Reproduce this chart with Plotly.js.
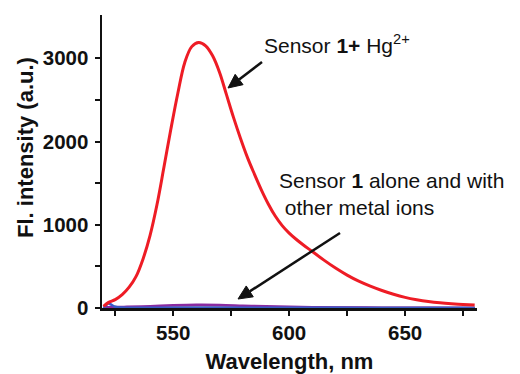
<!DOCTYPE html>
<html>
<head>
<meta charset="utf-8">
<script src="https://cdn.plot.ly/plotly-3.0.1.min.js"></script>
<style>html,body{margin:0;padding:0;background:#fff;}#chart{width:520px;height:374px;}</style>
</head>
<body>
<div id="chart"></div>
<script>
// Wavelength (nm) and intensities
const wlHg = [520,522,525,528,531,534,537,540,543,546,549,552,555,558,561,564,567,570,573,576,579,582,585,588,591,594,597,600,603,606,610,615,620,625,630,635,640,645,650,655,660,665,670,675,680];
const sensorHg = [20,65,100,160,250,380,590,870,1240,1690,2150,2580,2950,3140,3190,3150,3030,2830,2560,2290,2040,1810,1610,1420,1250,1105,990,900,826,760,678,575,480,395,322,262,210,165,128,100,78,62,51,43,37];

const wlBase = [520,521,522,523,525,528,530,540,550,560,570,580,590,600,610,620,640,660,680];
const sensorPurple = [5,8,10,11,12,13,14,22,32,38,36,28,20,14,10,7,4,2,1];
const sensorBlue = [0,30,55,45,15,5,3,2,2,2,2,2,2,2,2,2,1,1,0];
const sensorNavy = [0,2,3,3,3,2,2,2,2,2,2,2,2,2,2,2,1,1,0];

const xTickVals = [550,600,650];
const yTickVals = [0,1000,2000,3000];

const traces = [
  {x: wlBase, y: sensorNavy, mode:'lines', line:{color:'#1f2a6b', width:2.5, shape:'spline'}, hoverinfo:'skip'},
  {x: wlBase, y: sensorPurple, mode:'lines', line:{color:'#8a2aa0', width:2.5, shape:'spline'}, hoverinfo:'skip'},
  {x: wlBase, y: sensorBlue, mode:'lines', line:{color:'#3a5cc8', width:2.5, shape:'spline'}, hoverinfo:'skip'},
  {x: wlHg, y: sensorHg, mode:'lines', line:{color:'#ee1c25', width:3, shape:'spline'}, hoverinfo:'skip'}
];

// plot-area geometry (pixels) used to place the annotation arrows
const L = 102, R = 477, T = 15, B = 308;
const XR = [519.3, 681], YR = [0, 3520];
const toX = px => XR[0] + (px - L) / (R - L) * (XR[1] - XR[0]);
const toY = py => YR[0] + (B - py) / (B - T) * (YR[1] - YR[0]);

function arrowShapes(tail, tip) {
  const dx = tip[0] - tail[0], dy = tip[1] - tail[1];
  const len = Math.hypot(dx, dy), ux = dx / len, uy = dy / len;
  const hl = 14, hw = 6.5;
  const bx = tip[0] - hl * ux, by = tip[1] - hl * uy;
  const nx = -uy, ny = ux;
  const c1 = [bx + hw * nx, by + hw * ny], c2 = [bx - hw * nx, by - hw * ny];
  return [
    {type:'line', xref:'x', yref:'y', x0:toX(tail[0]), y0:toY(tail[1]), x1:toX(bx), y1:toY(by),
     line:{color:'#111', width:2.5}},
    {type:'path', xref:'x', yref:'y',
     path:`M ${toX(tip[0])},${toY(tip[1])} L ${toX(c1[0])},${toY(c1[1])} L ${toX(c2[0])},${toY(c2[1])} Z`,
     fillcolor:'#111', line:{color:'#111', width:1}}
  ];
}

const tickFont = {family:'Liberation Sans, Arial, sans-serif', size:20.5, color:'#111'};
const titleFont = {family:'Liberation Sans, Arial, sans-serif', size:22, color:'#111'};
const annFont = {family:'Liberation Sans, Arial, sans-serif', size:21, color:'#111'};

const layout = {
  width:520, height:374,
  margin:{l:L, r:520-R, t:T, b:374-B},
  paper_bgcolor:'#fff', plot_bgcolor:'#fff',
  showlegend:false,
  xaxis:{
    range:XR, showgrid:false, zeroline:false,
    showline:true, linecolor:'#111', linewidth:2.5, layer:'below traces',
    ticks:'outside', ticklen:5, tickwidth:2, tickcolor:'#111',
    tickvals:xTickVals, ticktext:xTickVals.map(v=>'<b>'+v+'</b>'),
    tickfont:tickFont,
    minor:{tickvals:[525,575,625,675], ticks:'outside', ticklen:5, tickwidth:2, tickcolor:'#111'},
    title:{text:'<b>Wavelength, nm</b>', font:titleFont, standoff:23}
  },
  yaxis:{
    range:YR, showgrid:false, zeroline:false,
    showline:true, linecolor:'#111', linewidth:2.5,
    ticks:'outside', ticklen:5, tickwidth:2, tickcolor:'#111',
    ticklabelstandoff:2,
    tickvals:yTickVals, ticktext:yTickVals.map(v=>'<b>'+v+'</b>'),
    tickfont:tickFont,
    minor:{tickvals:[500,1500,2500], ticks:'outside', ticklen:5, tickwidth:2, tickcolor:'#111'}
  },
  shapes:[].concat(arrowShapes([262,62],[228,88]), arrowShapes([340,233],[238,299])),
  annotations:[
    {xref:'paper', yref:'paper', x:(25-L)/(R-L), y:(B-148)/(B-T), xanchor:'center', yanchor:'middle',
     textangle:-90, text:'<b>Fl. intensity (a.u.)</b>', showarrow:false, font:titleFont},
    {xref:'paper', yref:'paper', x:(262-L)/(R-L), y:(B-44)/(B-T), xanchor:'left', yanchor:'middle',
     text:'Sensor <b>1+</b> Hg<sup>2+</sup>', showarrow:false, font:annFont},
    {xref:'paper', yref:'paper', x:(277-L)/(R-L), y:(B-194)/(B-T), xanchor:'left', yanchor:'middle', align:'left',
     text:'Sensor <b>1</b> alone and with<br> other metal ions', showarrow:false, font:annFont}
  ]
};

Plotly.newPlot('chart', traces, layout, {staticPlot:true, displayModeBar:false}).then(gd => {
  // drop empty placeholder text nodes (unused main/axis title slots)
  gd.querySelectorAll('text').forEach(t => { if (!t.textContent.trim()) t.remove(); });
});
</script>
</body>
</html>
